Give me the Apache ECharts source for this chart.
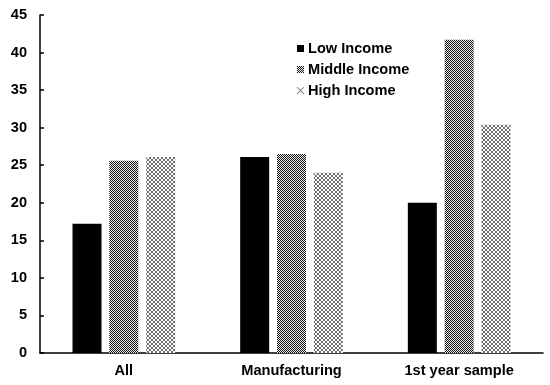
<!DOCTYPE html>
<html>
<head>
<meta charset="utf-8">
<script src="https://cdn.jsdelivr.net/npm/echarts@6/dist/echarts.min.js"></script>
<style>html,body{margin:0;padding:0;background:#fff}#c{width:550px;height:385px}</style>
</head>
<body>
<div id="c"></div>
<script>
var categories = ['All', 'Manufacturing', '1st year sample'];
var lowIncome = [17.2, 26.1, 20.0];
var middleIncome = [25.6, 26.5, 41.7];
var highIncome = [26.1, 24.0, 30.4];
var seriesNames = ['Low Income', 'Middle Income', 'High Income'];

function makePattern(size, pixels, bg, fg) {
  var c = document.createElement('canvas');
  c.width = size; c.height = size;
  var ctx = c.getContext('2d');
  ctx.fillStyle = bg; ctx.fillRect(0, 0, size, size);
  ctx.fillStyle = fg;
  pixels.forEach(function (p) { ctx.fillRect(p[0], p[1], 1, 1); });
  return c;
}
var midCanvas = makePattern(2, [[0,0],[1,1]], '#f0f0f0', '#111111');
var highCanvas = makePattern(4, [[0,0],[1,1],[2,2],[3,3],[3,0],[2,1],[1,2],[0,3]], '#ffffff', '#6e6e6e');
var midFill = { image: midCanvas, repeat: 'repeat' };
var highFill = { image: highCanvas, repeat: 'repeat' };

var font = 'Liberation Sans, Arial, sans-serif';
var fs = 14.6;
var chart = echarts.init(document.getElementById('c'), null, { renderer: 'canvas' });
chart.setOption({
  animation: false,
  backgroundColor: '#ffffff',
  grid: { left: 40, right: 7, top: 15, bottom: 32 },
  legend: {
    orient: 'vertical', left: 292, top: 36, itemGap: 6,
    itemWidth: 7, itemHeight: 7,
    textStyle: { fontFamily: font, fontWeight: 'bold', fontSize: fs, color: '#000', padding: [0,0,0,-1] },
    data: [
      { name: seriesNames[0], icon: 'rect', itemStyle: { color: '#000' } },
      { name: seriesNames[1], icon: 'rect', itemStyle: { color: midFill } },
      { name: seriesNames[2], icon: 'path://M0,0 L1,0 L5,4 L9,0 L10,0 L10,1 L6,5 L10,9 L10,10 L9,10 L5,6 L1,10 L0,10 L0,9 L4,5 L0,1 Z', itemStyle: { color: '#888' } }
    ]
  },
  xAxis: {
    type: 'category', data: categories,
    axisLine: { lineStyle: { color: '#000', width: 1.5 } },
    axisTick: { show: false },
    axisLabel: { fontFamily: font, fontWeight: 'bold', fontSize: fs, color: '#000', margin: 10 }
  },
  yAxis: {
    type: 'value', min: 0, max: 45, interval: 5,
    axisLine: { show: true, lineStyle: { color: '#000', width: 1.5 } },
    axisTick: { show: true, inside: true, length: 4, lineStyle: { color: '#000', width: 1.5 } },
    splitLine: { show: false },
    axisLabel: { fontFamily: font, fontWeight: 'bold', fontSize: fs, color: '#000', margin: 13 }
  },
  series: [
    { name: seriesNames[0], type: 'bar', data: lowIncome, barWidth: 29, barGap: '27%', itemStyle: { color: '#000' } },
    { name: seriesNames[1], type: 'bar', data: middleIncome, barWidth: 29, barGap: '27%', itemStyle: { color: midFill } },
    { name: seriesNames[2], type: 'bar', data: highIncome, barWidth: 29, barGap: '27%', itemStyle: { color: highFill } }
  ]
});
</script>
</body>
</html>
